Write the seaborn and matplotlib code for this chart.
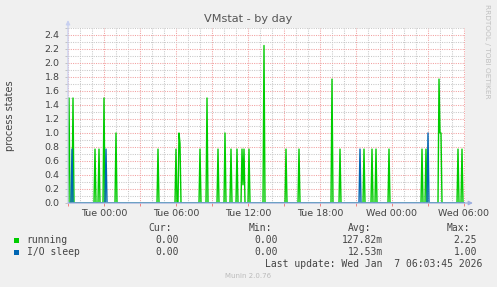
import numpy as np
import pandas as pd
import matplotlib
matplotlib.use("Agg")
import matplotlib.pyplot as plt
from matplotlib.ticker import MultipleLocator, FuncFormatter
import seaborn as sns

# ---------------- data (minutes relative to Tue 00:00, 5-minute samples) -------------
start_min = -180
end_min = 1800
step_min = 5

running_times = [-175, -155, -45, -25, 0, 60, 270, 360, 375, 380, 480, 515, 570, 605,
                 635, 665, 690, 695, 700, 725, 800, 910, 975, 1140, 1180, 1300, 1340,
                 1360, 1425, 1590, 1610, 1675, 1680, 1685, 1770, 1790]
running_values = [1.5, 1.5, 0.77, 0.77, 1.5, 1.0, 0.77, 0.77, 1.0, 0.85, 0.77, 1.5,
                  0.77, 1.0, 0.77, 0.77, 0.77, 0.26, 0.77, 0.77, 2.25, 0.77, 0.77, 1.77,
                  0.77, 0.77, 0.77, 0.77, 0.77, 0.77, 0.77, 1.77, 1.0, 1.0, 0.77, 0.77]

iosleep_times = [-160, 10, 1280, 1620]
iosleep_values = [0.77, 0.77, 0.77, 1.0]

series_names = ["running", "I/O sleep"]
series_colors = ["#00CC00", "#0066B3"]
cur_values = ["0.00", "0.00"]
min_values = ["0.00", "0.00"]
avg_values = ["127.82m", "12.53m"]
max_values = ["2.25", "1.00"]

xtick_pos = [0, 360, 720, 1080, 1440, 1800]
xtick_labels = ["Tue 00:00", "Tue 06:00", "Tue 12:00", "Tue 18:00", "Wed 00:00", "Wed 06:00"]

title = "VMstat - by day"
ylabel = "process states"
last_update = "Last update: Wed Jan  7 06:03:45 2026"
footer = "Munin 2.0.76"
side_text = "RRDTOOL / TOBI OETIKER"

# ---------------- build long-form table -------------
grid_t = np.arange(start_min, end_min + step_min, step_min)
frames = []
for name, times, vals in [("running", running_times, running_values),
                          ("I/O sleep", iosleep_times, iosleep_values)]:
    v = np.zeros(len(grid_t))
    for t, val in zip(times, vals):
        v[int(round((t - start_min) / step_min))] = val
    frames.append(pd.DataFrame({"t": grid_t, "value": v, "series": name}))
df = pd.concat(frames, ignore_index=True)

# ---------------- figure -------------
W, H = 497, 287
fig = plt.figure(figsize=(W / 100, H / 100), dpi=100, facecolor="#F0F0F0")

def fx(x):
    return x / W

def fy(y):
    return 1 - y / H

ax_left, ax_right, ax_top, ax_bottom = 68, 465, 28, 203
ax = fig.add_axes([fx(ax_left), fy(ax_bottom), (ax_right - ax_left) / W, (ax_bottom - ax_top) / H])
ax.set_facecolor("white")
ax.set_xlim(-180, 1805)
ax.set_ylim(0, 2.5)

# grid
ax.xaxis.set_major_locator(MultipleLocator(180))
ax.xaxis.set_minor_locator(MultipleLocator(60))
ax.yaxis.set_major_locator(MultipleLocator(0.2))
ax.yaxis.set_minor_locator(MultipleLocator(0.1))
ax.set_axisbelow(True)
ax.grid(which="major", color="#F2A0A0", linestyle=(0, (1, 1.2)), linewidth=0.75)
ax.grid(which="minor", color="#C8C8C8", linestyle=(0, (1, 1.2)), linewidth=0.75)

lab_map = dict(zip(xtick_pos, xtick_labels))
ax.xaxis.set_major_formatter(FuncFormatter(lambda v, p: lab_map.get(int(round(v)), "")))
ax.yaxis.set_major_formatter(FuncFormatter(lambda v, p: f"{v:.1f}"))
ax.tick_params(axis="x", which="major", length=2, width=0.7, color="#F08080",
               labelsize=6.8, labelcolor="#444444", pad=2.5)
ax.tick_params(axis="x", which="minor", length=0)
ax.tick_params(axis="y", which="both", length=2, width=0.6, color="#BBBBBB",
               labelsize=6.8, labelcolor="#444444", pad=4)

for s in ax.spines.values():
    s.set_visible(False)

# data lines
sns.lineplot(data=df, x="t", y="value", hue="series", hue_order=series_names,
             palette=dict(zip(series_names, series_colors)), estimator=None,
             linewidth=1.0, legend=False, ax=ax, zorder=3)
ax.set_xlabel("")
ax.set_ylabel("")

# axes with arrows
axis_col = "#9FB0E0"
ax.annotate("", xy=(1.02, 0), xytext=(0, 0), xycoords="axes fraction",
            arrowprops=dict(arrowstyle="-|>", color=axis_col, lw=0.9, mutation_scale=6,
                            shrinkA=0, shrinkB=0), annotation_clip=False, zorder=5)
ax.annotate("", xy=(0, 1.045), xytext=(0, 0), xycoords="axes fraction",
            arrowprops=dict(arrowstyle="-|>", color="#C8D0F0", lw=0.9, mutation_scale=6,
                            shrinkA=0, shrinkB=0), annotation_clip=False, zorder=5)

# titles
fig.text(fx(248.5), fy(18.5), title, ha="center", va="center", fontsize=8.1, color="#555555")
fig.text(fx(10), fy(115.5), ylabel, ha="center", va="center", rotation=90,
         fontsize=7, color="#444444")
fig.text(fx(486.5), fy(51), side_text, ha="center", va="center", rotation=270,
         fontsize=5.3, color="#C0C0C0")

# legend block
mono = dict(family="DejaVu Sans Mono", fontsize=7.0, color="#444444", va="center")
hdr_y = 227.7
for txt, xr in [("Cur:", 172), ("Min:", 272), ("Avg:", 371), ("Max:", 470)]:
    fig.text(fx(xr), fy(hdr_y), txt, ha="right", **mono)
row_y = [240, 252]
for i, name in enumerate(series_names):
    y = row_y[i]
    fig.patches.append(plt.Rectangle((fx(14), fy(y + 2.5)), 5.3 / W, 5 / H,
                                     transform=fig.transFigure, facecolor=series_colors[i],
                                     edgecolor="none"))
    fig.text(fx(26.7), fy(y), name, ha="left", **mono)
    fig.text(fx(179), fy(y), cur_values[i], ha="right", **mono)
    fig.text(fx(278), fy(y), min_values[i], ha="right", **mono)
    fig.text(fx(383.3), fy(y), avg_values[i], ha="right", **mono)
    fig.text(fx(477), fy(y), max_values[i], ha="right", **mono)
fig.text(fx(482.3), fy(263.7), last_update, ha="right", **mono)
fig.text(fx(248), fy(276), footer, ha="center", va="center", fontsize=5, color="#BBBBBB")

fig.savefig("out.png", dpi=100, facecolor=fig.get_facecolor())
